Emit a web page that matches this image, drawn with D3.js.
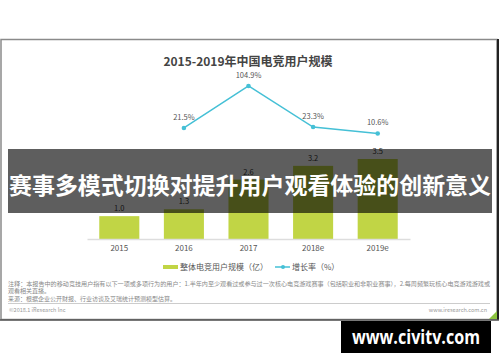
<!DOCTYPE html>
<html>
<head>
<meta charset="utf-8">
<script src="https://cdn.jsdelivr.net/npm/d3@7"></script>
<style>
  body { margin: 0; background: #fff; }
  svg { display: block; font-family: "Noto Sans CJK SC", "Noto Sans", sans-serif; }
</style>
</head>
<body>
<script>
const years = ["2015", "2016", "2017", "2018e", "2019e"];
const users = [1.0, 1.3, 2.6, 3.2, 3.5];
const growth = [null, 21.5, 104.9, 23.3, 10.6];
const chartTitle = "2015-2019年中国电竞用户规模";
const legendLabels = ["整体电竞用户规模（亿）", "增长率（%）"];
const notes = [
    "注释：本报告中的移动竞技用户指有以下一项或多项行为的用户：1.半年内至少观看过或参与过一次核心电竞游戏赛事（包括职业和非职业赛事），2.每周频繁玩核心电竞游戏游戏或",
    "观看相关直播。",
    "来源：根据企业公开财报、行业访谈及艾瑞统计预测模型估算。"
];
const headline = "赛事多模式切换对提升用户观看体验的创新意义";
const watermark = "www.civitv.com";

const width = 500, height = 362;
const green = "#c1d545", cyan = "#45c0d6";

const svg = d3.select("body").append("svg")
    .attr("width", width)
    .attr("height", height);

// frame of the screenshot
svg.append("rect")
    .attr("x", 1).attr("y", 39.5)
    .attr("width", 496).attr("height", 280)
    .attr("fill", "#fff")
    .attr("stroke", "#8a8a8a").attr("stroke-width", 1.5);
svg.append("line")
    .attr("x1", 498).attr("x2", 498).attr("y1", 39).attr("y2", 320)
    .attr("stroke", "#222").attr("stroke-width", 2);
svg.append("line")
    .attr("x1", 0).attr("x2", 499).attr("y1", 320).attr("y2", 320)
    .attr("stroke", "#555").attr("stroke-width", 1.5);
svg.append("path")
    .attr("d", "M489,319 L497,319 L497,311 Z")
    .attr("fill", "#8cc43f");

svg.append("text")
    .attr("x", 248).attr("y", 66)
    .attr("text-anchor", "middle")
    .attr("font-size", 12).attr("font-weight", "bold")
    .attr("fill", "#444")
    .text(chartTitle);

const x = d3.scaleBand()
    .domain(years)
    .range([87, 410])
    .paddingInner(0.38)
    .paddingOuter(0.19);

const y = d3.scaleLinear().domain([0, 3.5]).range([239, 159]);
const yg = d3.scaleLinear().domain([0, 110]).range([138.8, 83.4]);

// bars
svg.selectAll(".bar")
    .data(users)
    .enter().append("rect")
    .attr("class", "bar")
    .attr("x", (d, i) => x(years[i]))
    .attr("y", d => y(d))
    .attr("width", x.bandwidth())
    .attr("height", d => y(0) - y(d))
    .attr("fill", green);

svg.selectAll(".barLabel")
    .data(users)
    .enter().append("text")
    .attr("class", "barLabel")
    .attr("x", (d, i) => x(years[i]) + x.bandwidth() / 2)
    .attr("y", d => y(d) - 5)
    .attr("text-anchor", "middle")
    .attr("font-size", 7.5)
    .attr("fill", "#333")
    .text(d => d.toFixed(1));

// axis
const xAxis = svg.append("g")
    .attr("transform", "translate(0,239)")
    .call(d3.axisBottom(x).tickSize(0).tickPadding(6));
xAxis.select(".domain").attr("stroke", "#ddd").attr("stroke-width", 1.5);
xAxis.selectAll("text")
    .attr("font-size", 8).attr("fill", "#555")
    .attr("font-family", "'Noto Sans CJK SC', sans-serif");

// growth line
const pts = years.map((yr, i) => ({ yr, v: growth[i] })).filter(d => d.v !== null);
const line = d3.line()
    .x(d => x(d.yr) + x.bandwidth() / 2)
    .y(d => yg(d.v));

svg.append("path")
    .datum(pts)
    .attr("d", line)
    .attr("fill", "none")
    .attr("stroke", cyan)
    .attr("stroke-width", 1.5);

svg.selectAll(".dot")
    .data(pts)
    .enter().append("circle")
    .attr("cx", d => x(d.yr) + x.bandwidth() / 2)
    .attr("cy", d => yg(d.v))
    .attr("r", 2.3)
    .attr("fill", cyan);

svg.selectAll(".gLabel")
    .data(pts)
    .enter().append("text")
    .attr("x", d => x(d.yr) + x.bandwidth() / 2)
    .attr("y", d => yg(d.v) - 8)
    .attr("text-anchor", "middle")
    .attr("font-size", 7.5)
    .attr("fill", "#555")
    .text(d => d.v.toFixed(1) + "%");

// legend
svg.append("rect")
    .attr("x", 163).attr("y", 265).attr("width", 15).attr("height", 4)
    .attr("fill", green);
svg.append("text")
    .attr("x", 180).attr("y", 270)
    .attr("font-size", 8).attr("fill", "#555")
    .text(legendLabels[0]);
svg.append("line")
    .attr("x1", 275).attr("x2", 290).attr("y1", 267).attr("y2", 267)
    .attr("stroke", cyan).attr("stroke-width", 1.5);
svg.append("circle")
    .attr("cx", 283).attr("cy", 267).attr("r", 2)
    .attr("fill", cyan);
svg.append("text")
    .attr("x", 292).attr("y", 270)
    .attr("font-size", 8).attr("fill", "#555")
    .text(legendLabels[1]);

// notes
svg.append("text")
    .attr("x", 8).attr("y", 286)
    .attr("font-size", 6).attr("fill", "#888")
    .attr("textLength", 482).attr("lengthAdjust", "spacingAndGlyphs")
    .text(notes[0]);
svg.append("text")
    .attr("x", 8).attr("y", 293)
    .attr("font-size", 6).attr("fill", "#888")
    .text(notes[1]);
svg.append("text")
    .attr("x", 8).attr("y", 301)
    .attr("font-size", 6).attr("fill", "#888")
    .text(notes[2]);
svg.append("line")
    .attr("x1", 8).attr("x2", 490).attr("y1", 303.5).attr("y2", 303.5)
    .attr("stroke", "#ccc").attr("stroke-width", 1);
svg.append("text")
    .attr("x", 9).attr("y", 312)
    .attr("font-size", 5.5).attr("fill", "#999")
    .text("©2018.1 iResearch Inc");
svg.append("text")
    .attr("x", 487).attr("y", 312)
    .attr("text-anchor", "end")
    .attr("font-size", 5.5).attr("fill", "#999")
    .text("www.iresearch.com.cn");

// headline overlay
svg.append("rect")
    .attr("x", 8).attr("y", 149).attr("width", 484).attr("height", 64)
    .attr("fill", "#000").attr("fill-opacity", 0.63);
svg.append("text")
    .attr("x", 250).attr("y", 194)
    .attr("text-anchor", "middle")
    .attr("font-size", 23).attr("font-weight", "bold")
    .attr("fill", "#fff")
    .attr("textLength", 482).attr("lengthAdjust", "spacingAndGlyphs")
    .text(headline);

// watermark
svg.append("rect")
    .attr("x", 341).attr("y", 321).attr("width", 150).attr("height", 32)
    .attr("fill", "#000");
svg.append("text")
    .attr("x", 416).attr("y", 344)
    .attr("text-anchor", "middle")
    .attr("font-size", 19).attr("font-weight", "bold")
    .attr("fill", "#fff")
    .attr("font-family", "'Open Sans', 'DejaVu Sans', sans-serif")
    .attr("textLength", 128).attr("lengthAdjust", "spacingAndGlyphs")
    .text(watermark);
</script>
</body>
</html>
